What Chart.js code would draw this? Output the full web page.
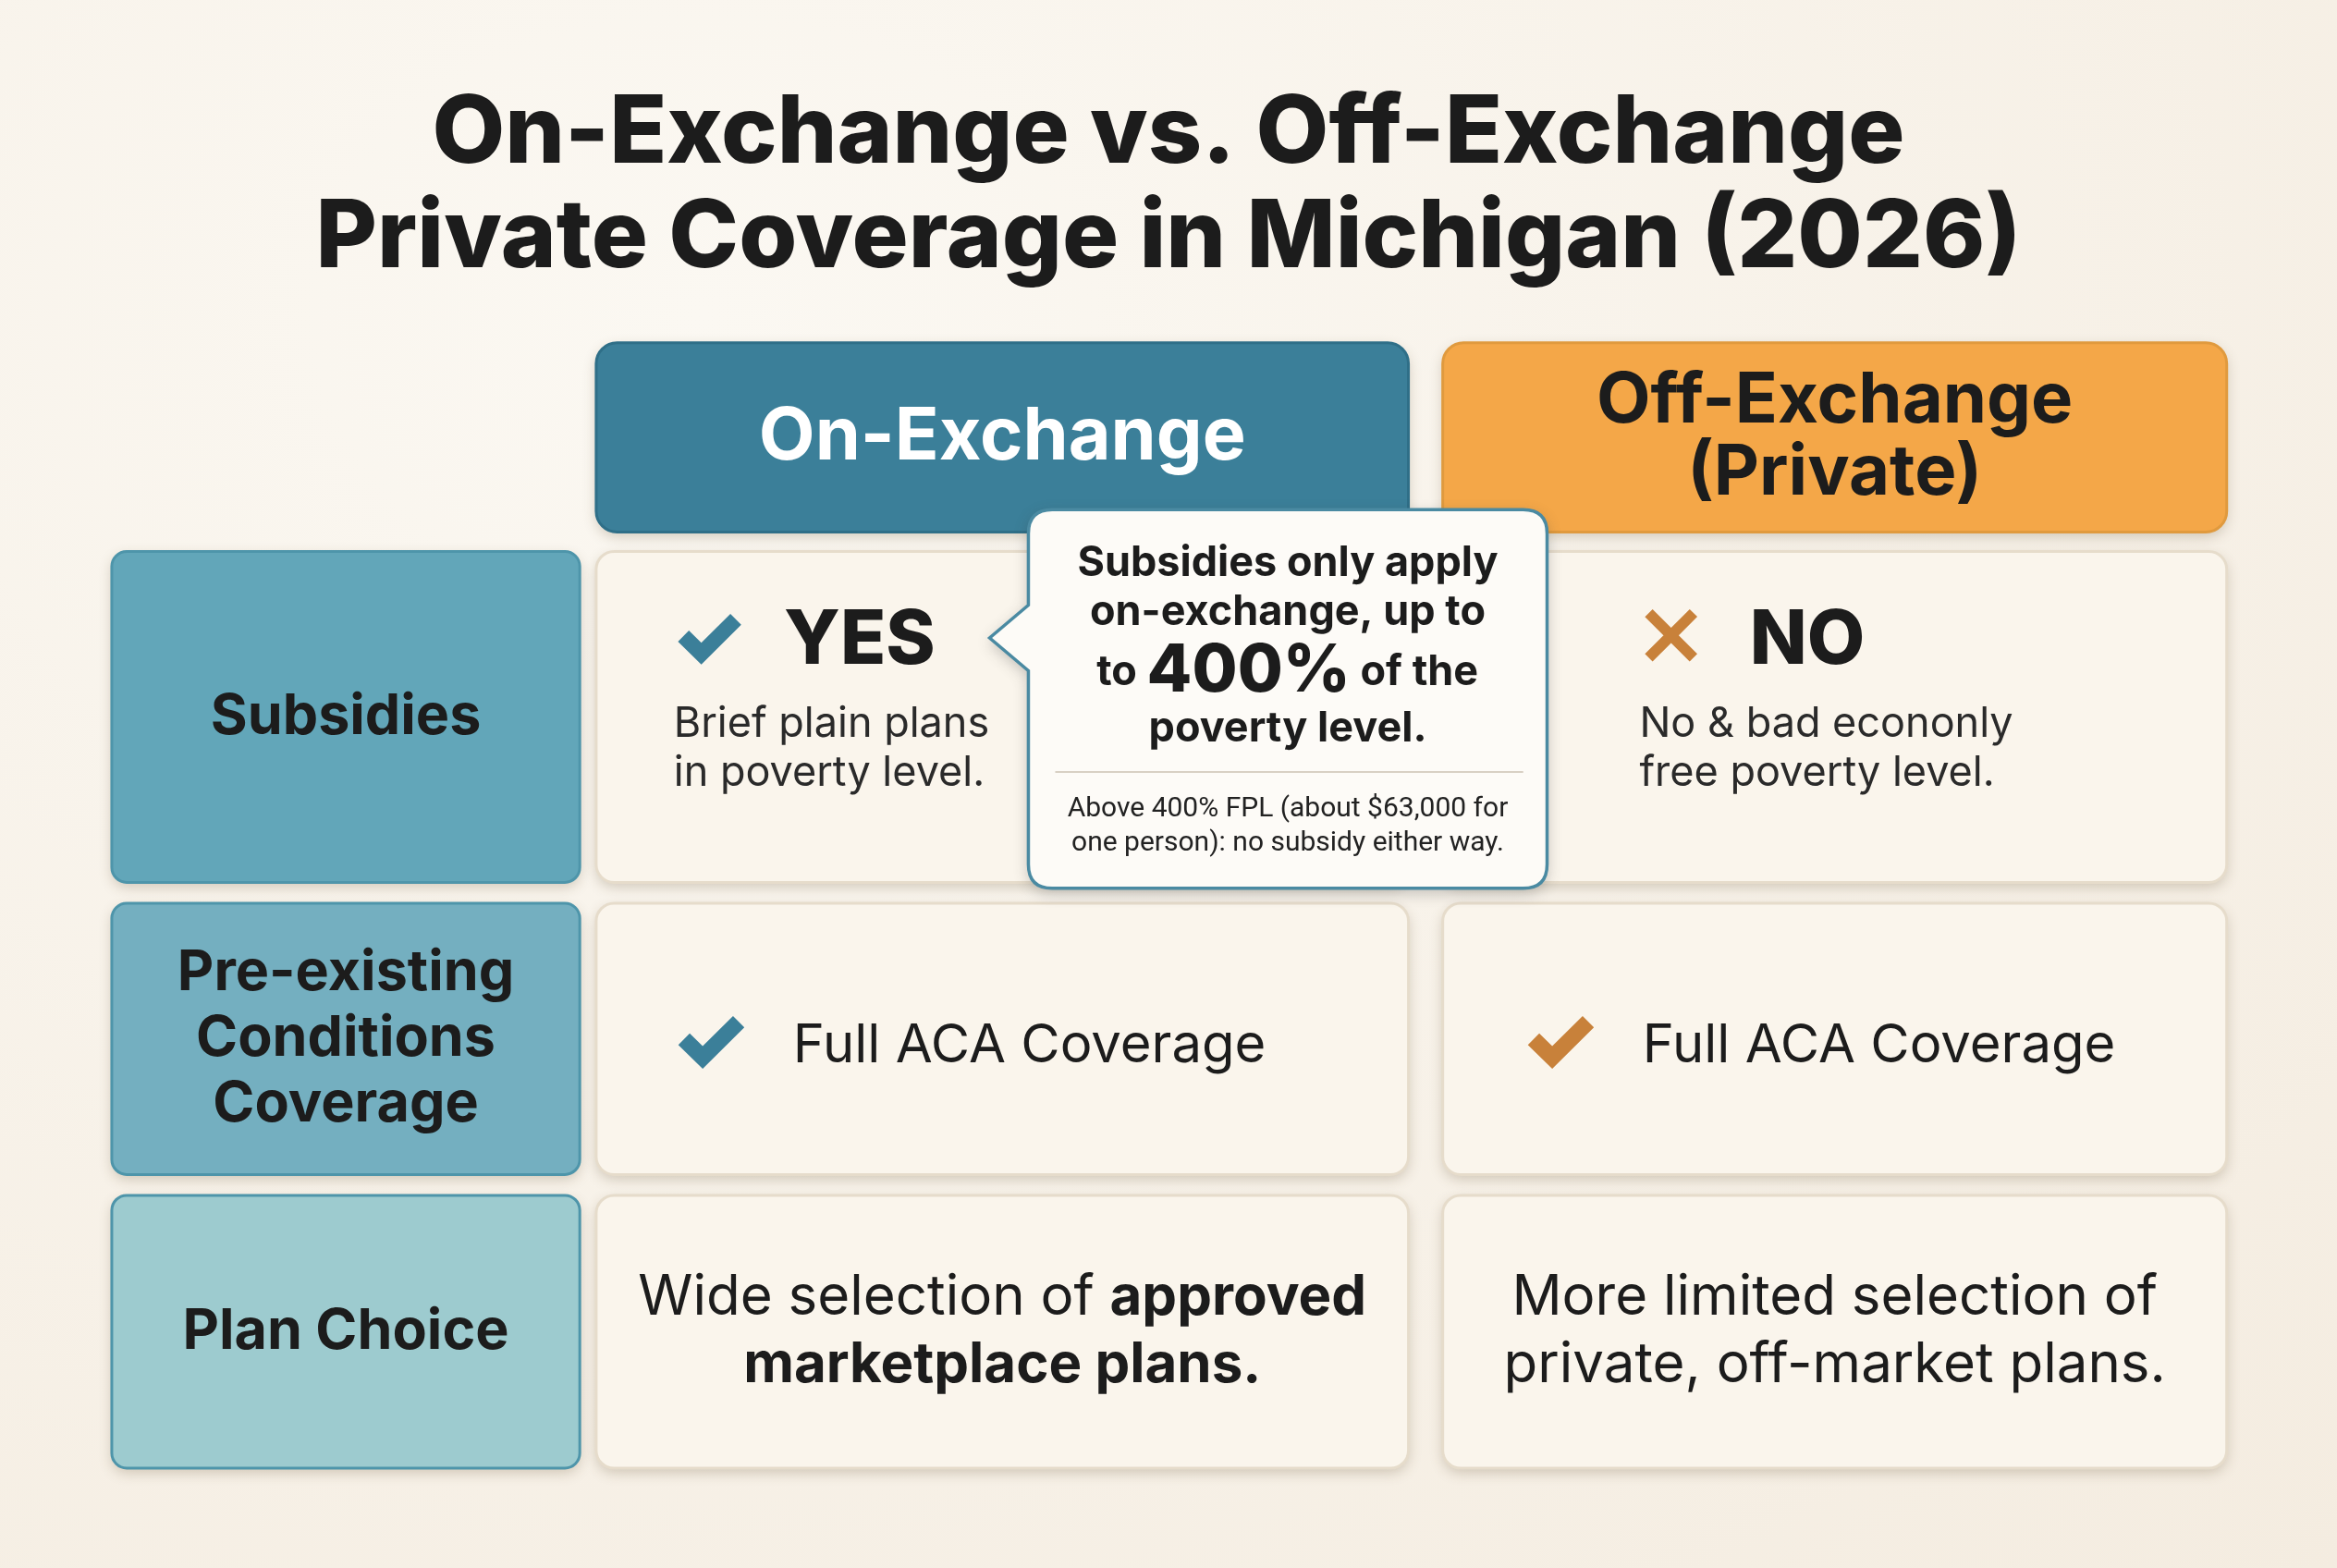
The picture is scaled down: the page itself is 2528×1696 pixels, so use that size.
<!DOCTYPE html>
<html>
<head>
<meta charset="utf-8">
<script src="https://cdn.jsdelivr.net/npm/chart.js@4/dist/chart.umd.min.js"></script>
<style>
  html, body { margin: 0; padding: 0; background: #f6efe4; }
  #wrap { width: 2528px; height: 1696px; background: radial-gradient(ellipse at 30% 20%, #fbf8f2 0%, #f4ece0 100%); }
</style>
</head>
<body>
<div id="wrap"><canvas id="grid"></canvas></div>
<script>
// ---- data ----
const titleLines = ["On-Exchange vs. Off-Exchange", "Private Coverage in Michigan (2026)"];
const columns = [["On-Exchange"], ["Off-Exchange", "(Private)"]];
const rows = [["Subsidies"], ["Pre-existing", "Conditions", "Coverage"], ["Plan Choice"]];
const rowColors = ["#62a6b9", "#74afc0", "#9dcbcf"];
const subsidyMarks = [["✓", "YES"], ["✕", "NO"]];
const subsidyNotes = [["Brief plain plans", "in poverty level."], ["No & bad econonly", "free poverty level."]];
const preexisting = ["Full ACA Coverage", "Full ACA Coverage"];
const planChoice = [
  [[["Wide selection of ", false], ["approved", true]], [["marketplace plans.", true]]],
  [[["More limited selection of", false]], [["private, off-market plans.", false]]]
];
const calloutMain = ["Subsidies only apply", "on-exchange, up to", "400%", "poverty level."];
const calloutNote = ["Above 400% FPL (about $63,000 for", "one person): no subsidy either way."];

// layout in reference units (1568 x 1052)
const colX = [[75, 389], [400, 945], [968, 1494]];
const headerY = [230, 357];
const rowY = [[370, 592], [606, 788], [802, 985]];
const teal = "#3b7f99", orange = "#f4a748", dark = "#1c1c1c";

const canvas = document.getElementById("grid");
canvas.width = 2528; canvas.height = 1696;

function roundBox(ctx, x1, y1, x2, y2, r, fill, stroke, shadow) {
  ctx.save();
  if (shadow) { ctx.shadowColor = "rgba(90,70,40,0.25)"; ctx.shadowBlur = 14; ctx.shadowOffsetY = 5; }
  ctx.beginPath(); ctx.roundRect(x1, y1, x2 - x1, y2 - y1, r);
  ctx.fillStyle = fill; ctx.fill();
  ctx.restore();
  if (stroke) { ctx.save(); ctx.beginPath(); ctx.roundRect(x1, y1, x2 - x1, y2 - y1, r); ctx.strokeStyle = stroke; ctx.lineWidth = 3; ctx.stroke(); ctx.restore(); }
}

const tablePlugin = {
  id: "tablePlugin",
  afterDraw(chart) {
    const ctx = chart.ctx, xs = chart.scales.x, ys = chart.scales.y;
    const X = v => xs.getPixelForValue(v), Y = v => ys.getPixelForValue(v);
    const k = X(1) - X(0);
    const font = (w, s, f) => `${w} ${Math.round(s * k)}px ${f || "Inter, sans-serif"}`;
    ctx.save();
    ctx.textAlign = "center"; ctx.textBaseline = "middle";
    // title
    ctx.fillStyle = dark; ctx.font = font(800, 63);
    titleLines.forEach((t, i) => ctx.fillText(t, X(784), Y(90 + i * 70)));
    // headers
    [teal, orange].forEach((c, i) => {
      const [a, b] = colX[i + 1];
      roundBox(ctx, X(a), Y(headerY[0]), X(b), Y(headerY[1]), 14 * k, c, i ? "#e09a3e" : "#2f6f88", true);
      ctx.fillStyle = i ? dark : "#ffffff"; ctx.font = font(700, i ? 47 : 49);
      const ls = columns[i];
      ls.forEach((t, j) => ctx.fillText(t, X((a + b) / 2), Y((headerY[0] + headerY[1]) / 2 + (j - (ls.length - 1) / 2) * 48)));
    });
    // row labels and cells
    rows.forEach((r, ri) => {
      const [t, b] = rowY[ri];
      roundBox(ctx, X(colX[0][0]), Y(t), X(colX[0][1]), Y(b), 10 * k, rowColors[ri], "#4e95aa", true);
      ctx.fillStyle = dark; ctx.font = font(700, 38);
      r.forEach((s, j) => ctx.fillText(s, X(232), Y((t + b) / 2 + (j - (r.length - 1) / 2) * 44)));
      [1, 2].forEach(ci => roundBox(ctx, X(colX[ci][0]), Y(t), X(colX[ci][1]), Y(b), 12 * k, "#faf5ec", "#e6dccb", true));
    });
    // subsidies row
    ctx.textAlign = "left";
    [[450, teal], [1098, "#c8813a"]].forEach(([x, c], i) => {
      ctx.fillStyle = c; ctx.font = font(900, 56); ctx.fillText(subsidyMarks[i][0], X(x), Y(430));
      ctx.fillStyle = dark; ctx.font = font(800, 50); ctx.fillText(subsidyMarks[i][1], X(x + 76), Y(430));
      ctx.fillStyle = "#2a2a2a"; ctx.font = font(400, 28);
      subsidyNotes[i].forEach((s, j) => ctx.fillText(s, X(x + 2), Y(486 + j * 33)));
    });
    // pre-existing row
    [[450, teal], [1020, "#c8813a"]].forEach(([x, c], i) => {
      ctx.fillStyle = c; ctx.font = font(900, 58); ctx.fillText("✓", X(x), Y(700));
      ctx.fillStyle = dark; ctx.font = font(400, 36); ctx.fillText(preexisting[i], X(x + 82), Y(702));
    });
    // plan choice row
    planChoice.forEach((lines, i) => {
      const cx = (colX[i + 1][0] + colX[i + 1][1]) / 2;
      lines.forEach((parts, j) => {
        const widths = parts.map(([s, b]) => { ctx.font = font(b ? 700 : 400, 37); return ctx.measureText(s).width; });
        let x = X(cx) - widths.reduce((p, q) => p + q, 0) / 2;
        parts.forEach(([s, b], n) => {
          ctx.font = font(b ? 700 : 400, 37); ctx.fillStyle = dark;
          ctx.fillText(s, x, Y(871 + j * 45)); x += widths[n];
        });
      });
    });
    // callout
    ctx.save();
    ctx.shadowColor = "rgba(60,60,60,0.3)"; ctx.shadowBlur = 16; ctx.shadowOffsetY = 5;
    ctx.beginPath();
    const cx1 = X(690), cy1 = Y(342), cx2 = X(1038), cy2 = Y(596), r = 16 * k;
    ctx.moveTo(cx1 + r, cy1); ctx.lineTo(cx2 - r, cy1); ctx.quadraticCurveTo(cx2, cy1, cx2, cy1 + r);
    ctx.lineTo(cx2, cy2 - r); ctx.quadraticCurveTo(cx2, cy2, cx2 - r, cy2);
    ctx.lineTo(cx1 + r, cy2); ctx.quadraticCurveTo(cx1, cy2, cx1, cy2 - r);
    ctx.lineTo(cx1, Y(450)); ctx.lineTo(X(664), Y(428)); ctx.lineTo(cx1, Y(406));
    ctx.lineTo(cx1, cy1 + r); ctx.quadraticCurveTo(cx1, cy1, cx1 + r, cy1); ctx.closePath();
    ctx.fillStyle = "#fdfbf7"; ctx.fill(); ctx.restore();
    ctx.strokeStyle = "#4a8aa2"; ctx.lineWidth = 3.5; ctx.stroke();
    ctx.textAlign = "center"; ctx.fillStyle = dark;
    ctx.font = font(700, 28);
    ctx.fillText(calloutMain[0], X(864), Y(378));
    ctx.fillText(calloutMain[1], X(864), Y(411));
    ctx.fillText(calloutMain[3], X(864), Y(489));
    // mixed line: "to 400% of the"
    const seg = [["to ", 28], [calloutMain[2], 44], [" of the", 28]];
    const ws = seg.map(([s, f]) => { ctx.font = font(800, f); return ctx.measureText(s).width; });
    let sx = X(864) - ws.reduce((p, q) => p + q, 0) / 2;
    ctx.textAlign = "left";
    seg.forEach(([s, f], n) => { ctx.font = font(f > 30 ? 800 : 700, f); ctx.fillText(s, sx, Y(451)); sx += ws[n]; });
    ctx.strokeStyle = "#d8d0c4"; ctx.lineWidth = 2;
    ctx.beginPath(); ctx.moveTo(X(708), Y(518)); ctx.lineTo(X(1022), Y(518)); ctx.stroke();
    ctx.textAlign = "center"; ctx.fillStyle = "#222"; ctx.font = font(400, 18.5, "Roboto, sans-serif");
    calloutNote.forEach((s, j) => ctx.fillText(s, X(864), Y(543 + j * 23)));
    ctx.restore();
  }
};

new Chart(canvas.getContext("2d"), {
  type: "scatter",
  data: { datasets: [{ data: [], pointRadius: 0 }] },
  options: {
    responsive: false, animation: false,
    layout: { padding: 0 },
    plugins: { legend: { display: false }, tooltip: { enabled: false } },
    scales: {
      x: { type: "linear", min: 0, max: 1568, display: false },
      y: { type: "linear", min: 0, max: 1052, reverse: true, display: false }
    }
  },
  plugins: [tablePlugin]
});
</script>
</body>
</html>
